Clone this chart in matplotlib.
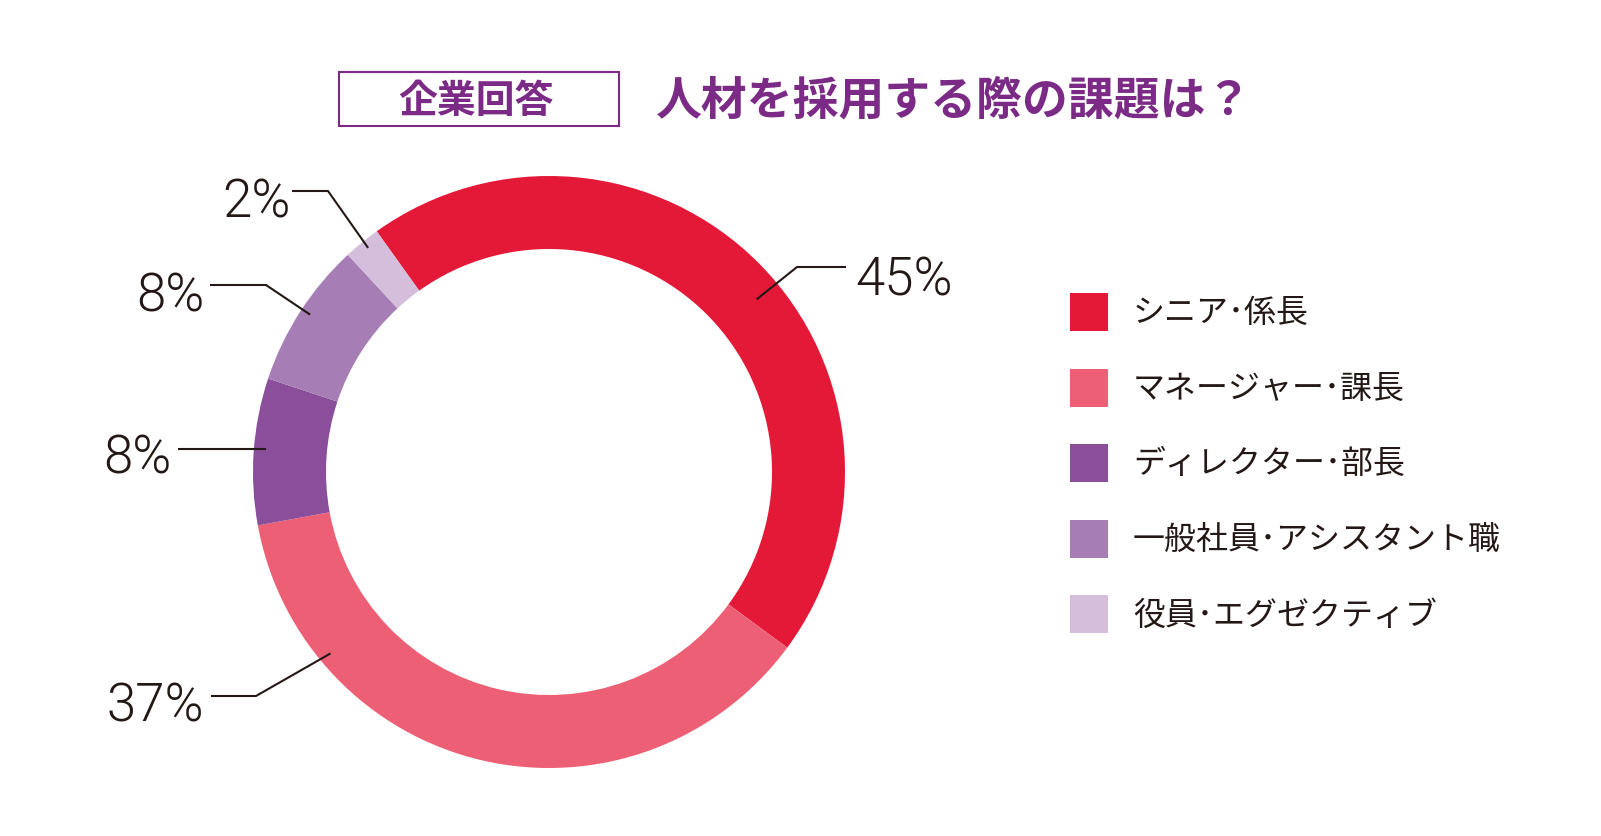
import matplotlib.pyplot as plt
from matplotlib.patches import Rectangle
import numpy as np

# data
categories = ['シニア･係長', 'マネージャー･課長', 'ディレクター･部長',
              '一般社員･アシスタント職', '役員･エグゼクティブ']
values = [45, 37, 8, 8, 2]
labels = ['45%', '37%', '8%', '8%', '2%']
colors = ['#E31937', '#EC5F75', '#8A4E9B', '#A67DB4', '#D4BEDB']

title_tag = '企業回答'
title = '人材を採用する際の課題は？'

W, H = 1601, 837
jp = ['Noto Sans CJK JP', 'DejaVu Sans']
purple = '#7B2A86'
ink = '#231815'


def Y(y):
    # pixel row -> data y
    return H - y


fig = plt.figure(figsize=(W / 100, H / 100), dpi=100)
ax = fig.add_axes([0, 0, 1, 1])

cx, cy, R, ring = 549, 473, 296, 73
start = 90 + 35.6
ax.pie(values, colors=colors, startangle=start, counterclock=False,
       radius=R, center=(cx, Y(cy)),
       wedgeprops=dict(width=ring, linewidth=0))
ax.set_xlim(0, W)
ax.set_ylim(0, H)
ax.set_aspect('equal')
ax.axis('off')

# leader lines: anchor inside wedge, then elbow and end
frac = [0.53, 0.78, 0.52, 0.52, 0.54]
rad = [270, 284, 284, 286, 288]
elbows = [[(797, 268), (846, 268)],
          [(256, 697), (211, 697)],
          [(178, None)],
          [(266, 286), (210, 286)],
          [(328, 192), (292, 192)]]
text_pos = [(855, 275, 'left'), (204, 701, 'right'), (171, 453, 'right'),
            (204, 291, 'right'), (291, 197, 'right')]

cum = np.concatenate([[0], np.cumsum(values)])
total = sum(values)
for i, v in enumerate(values):
    a0 = start - cum[i] / total * 360
    ang = np.radians(a0 - frac[i] * v / total * 360)
    px = cx + rad[i] * np.cos(ang)
    py = Y(cy) + rad[i] * np.sin(ang)
    xs, ys = [px], [py]
    for ex, ey in elbows[i]:
        xs.append(ex)
        ys.append(py if ey is None else Y(ey))
    ax.plot(xs, ys, color=ink, lw=1.5, solid_capstyle='butt')
    tx, ty, ha = text_pos[i]
    ax.text(tx, Y(ty), labels[i], ha=ha, va='center_baseline', fontsize=38,
            family=['Roboto', 'DejaVu Sans'], weight=300, color=ink)

# legend
for i, (c, name) in enumerate(zip(colors, categories)):
    yc = 313 + i * 75.6
    ax.add_patch(Rectangle((1070, Y(yc + 19)), 38, 38, facecolor=c,
                           edgecolor='none'))
    ax.text(1133, Y(yc), name, ha='left', va='center', fontsize=23,
            family=jp, color=ink)

# title
ax.add_patch(Rectangle((339, Y(127)), 280, 54, facecolor='none',
                       edgecolor=purple, lw=1.5))
ax.text(476, Y(101), title_tag, ha='center', va='center', fontsize=28,
        family=jp, weight='bold', color=purple)
ax.text(656, Y(101), title, ha='left', va='center', fontsize=33,
        family=jp, weight='bold', color=purple)

fig.savefig('out.png', dpi=100, facecolor='white')
